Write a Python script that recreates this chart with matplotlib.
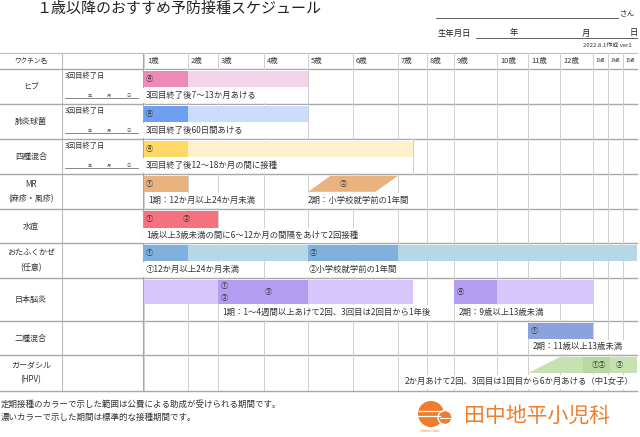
import numpy as np
import matplotlib
matplotlib.use("Agg")
import matplotlib.pyplot as plt
from matplotlib.patches import Rectangle, Circle, Polygon

plt.rcParams['font.family'] = ['Noto Sans CJK JP', 'DejaVu Sans']

# ---------------- data ----------------
title = "１歳以降のおすすめ予防接種スケジュール"
age_labels = ["1歳", "2歳", "3歳", "4歳", "5歳", "6歳", "7歳", "8歳", "9歳",
              "10歳", "11歳", "12歳", "13歳", "14歳", "15歳"]
col_ages = [1, 2, 3, 4, 5, 6, 7, 8, 9, 10, 11, 12, 13, 14, 15, 16]
vaccines = ["ヒブ", "肺炎球菌", "四種混合", "MR\n(麻疹・風疹)", "水痘",
            "おたふくかぜ\n(任意)", "日本脳炎", "二種混合", "ガーダシル\n(HPV)"]
has_date_box = [True, True, True, False, False, False, False, False, False]

# periods per vaccine row: (start age, end age, shade)  d = standard, l = allowed
hib_periods = [(1, 2, "d"), (2, 5, "l")]
pcv_periods = [(1, 2, "d"), (2, 5, "l")]
dtp_periods = [(1, 2, "d"), (2, 7.5, "l")]
mr_periods = [(1, 2, "d")]
mr_second = (5.0, 6.5, 5.5, 7.0)          # bottom start/end, top start/end
var_periods = [(1, 3, "d")]
mumps_periods = [(1, 2, "d"), (2, 5, "l"), (5, 7, "d"), (7, 16, "l")]
je_periods = [(1, 3, "l"), (3, 5, "d"), (5, 7.5, "l"), (9, 10, "d"), (10, 13, "l")]
dt_periods = [(11, 13, "d")]
hpv_shape = (11.0, 16.0, 12.0, 16.0)      # bottom start/end, top start/end
hpv_core = (12.7, 14.1)

periods = [hib_periods, pcv_periods, dtp_periods, mr_periods, var_periods,
           mumps_periods, je_periods, dt_periods, []]

dark_colors = ["#ee8ab8", "#6f9ff0", "#ffd867", "#e9b37f", "#f6717f",
               "#80b1dc", "#b39df0", "#8aa3dc", "#c7e1b3"]
light_colors = ["#f3d4ea", "#cbddfa", "#fff1cb", "#e9b37f", "#f6717f",
                "#b6d7e5", "#d7c6fb", "#8aa3dc", "#c7e1b3"]

# dose markers: (row, age, label, y-offset inside bar in px)
doses = [
    (0, 1.05, "④", 0), (1, 1.05, "④", 0), (2, 1.05, "④", 0),
    (3, 1.05, "①", 0), (3, 5.7, "②", 0),
    (4, 1.05, "①", 0), (4, 1.87, "②", 0),
    (5, 1.05, "①", 0), (5, 5.05, "②", 0),
    (6, 3.07, "①", -6), (6, 3.07, "②", 6), (6, 4.02, "③", 0), (6, 9.06, "④", 0),
    (7, 11.08, "①", 0),
    (8, 12.97, "①②", 0), (8, 14.55, "③", 0),
]

# notes: (row, age, text, align)
notes = [
    (0, 1.05, "3回目終了後7～13か月あける", "left"),
    (1, 1.05, "3回目終了後60日間あける", "left"),
    (2, 1.05, "3回目終了後12～18か月の間に接種", "left"),
    (3, 1.10, "1期：12か月以上24か月未満", "left"),
    (3, 5.00, "2期：小学校就学前の1年間", "left"),
    (4, 1.05, "1歳以上3歳未満の間に6～12か月の間隔をあけて2回接種", "left"),
    (5, 1.03, "①12か月以上24か月未満", "left"),
    (5, 5.02, "②小学校就学前の1年間", "left"),
    (6, 3.10, "1期：1～4週間以上あけて2回、3回目は2回目から1年後", "left"),
    (6, 9.10, "2期：9歳以上13歳未満", "left"),
    (7, 11.16, "2期：11歳以上13歳未満", "left"),
    (8, 15.75, "2か月あけて2回、3回目は1回目から6か月あける（中1女子）", "right"),
]

footnotes = ["定期接種のカラーで示した範囲は公費による助成が受けられる期間です。",
             "濃いカラーで示した期間は標準的な接種期間です。"]
clinic = "田中地平小児科"

# ---------------- layout (pixels) ----------------
W, H = 640, 437
col_px = [144, 188, 218, 264, 308, 353, 398, 427, 454, 497, 528, 560, 593, 608, 623, 637]
row_tops = [69, 104, 139, 174, 209, 243, 278, 321, 355, 391]
header_top = 53
bar_h = [16, 16, 16, 16, 17, 16, 24, 16, 16]
orange = "#ef7d2b"

fig = plt.figure(figsize=(6.4, 4.37), dpi=100)
ax = fig.add_axes([0, 0, 1, 1])
ax.set_xlim(0, W)
ax.set_ylim(H, 0)
ax.axis("off")

# schedule axes with the (non-uniform) age scale
def fwd(a):
    return np.interp(a, col_ages, col_px)

def inv(p):
    return np.interp(p, col_px, col_ages)

axs = fig.add_axes([col_px[0] / W, 1 - row_tops[-1] / H,
                    (col_px[-1] - col_px[0]) / W, (row_tops[-1] - header_top) / H])
axs.set_xscale("function", functions=(fwd, inv))
axs.set_xlim(col_ages[0], col_ages[-1])
axs.set_ylim(row_tops[-1], header_top)
axs.axis("off")
axs.patch.set_alpha(0)

# title and header texts
ax.text(36, 9, title, fontsize=10.8, va="center", ha="left", color="#222222")
ax.plot([436, 618], [18, 18], color="#444444", lw=0.6)
ax.text(620, 13, "さん", fontsize=5.5, va="center", ha="left", color="#333333")
ax.text(438, 33, "生年月日", fontsize=6, va="center", ha="left", color="#222222")
ax.plot([476, 637], [38, 38], color="#444444", lw=0.6)
for xx, t in [(510, "年"), (582, "月"), (630, "日")]:
    ax.text(xx, 33, t, fontsize=6, va="center", ha="left", color="#222222")
ax.text(632, 45, "2022.8.1作成 ver1", fontsize=4.3, va="center", ha="right", color="#333333")

# grid lines
gl = "#cfcfcf"
for i, a in enumerate(col_ages):
    axs.plot([a, a], [header_top, row_tops[-1]], color=gl, lw=0.7, zorder=1)
ax.plot([62, 62], [header_top, row_tops[-1]], color="#bdbdbd", lw=0.8, zorder=1)
ax.plot([143, 143], [header_top, row_tops[-1]], color="#a8a8a8", lw=0.8, zorder=1)
ax.plot([0, 637], [header_top, header_top], color="#bdbdbd", lw=0.8, zorder=1)
for y in row_tops:
    ax.plot([0, 637], [y, y], color="#a8a8a8", lw=1.0, zorder=5)

# header row
ax.text(31, 61, "ワクチン名", fontsize=4.8, ha="center", va="center", color="#333333")
for i, lab in enumerate(age_labels):
    fs = 5.4 if i < 12 else 3.3
    axs.text(inv(fwd(col_ages[i]) + 3), 61, lab, fontsize=fs, ha="left", va="center",
             color="#333333")

# vaccine name column and date boxes
for r, name in enumerate(vaccines):
    yc = (row_tops[r] + row_tops[r + 1]) / 2
    ax.text(31, yc, name, fontsize=5.8, ha="center", va="center", color="#333333",
            linespacing=1.7)
    if has_date_box[r]:
        ax.text(65, row_tops[r] + 7, "3回目終了日", fontsize=5.2, ha="left", va="center",
                color="#333333")
        ax.plot([65, 138], [row_tops[r] + 29, row_tops[r] + 29], color="#555555", lw=0.5)
        for xx, t in [(88, "年"), (107, "月"), (126, "日")]:
            ax.text(xx, row_tops[r] + 27, t, fontsize=3, ha="left", va="center",
                    color="#555555")

# white backing for rows with full-height note boxes
for r in range(3):
    end = max(p[1] for p in periods[r])
    axs.add_patch(Rectangle((1, row_tops[r] + 0.8), end - 1,
                            row_tops[r + 1] - row_tops[r] - 1.6,
                            facecolor="white", edgecolor="none", zorder=2))
    axs.plot([end, end], [row_tops[r], row_tops[r + 1]], color=gl, lw=0.7, zorder=2)

# bars
for r, plist in enumerate(periods):
    top = row_tops[r] + 1.8
    for (a0, a1, kind) in plist:
        c = dark_colors[r] if kind == "d" else light_colors[r]
        axs.barh(top + bar_h[r] / 2, a1 - a0, left=a0, height=bar_h[r], color=c,
                 edgecolor="none", zorder=3)

# MR second dose (parallelogram)
r = 3
top = row_tops[r] + 1.8
b0, b1, t0, t1 = mr_second
axs.add_patch(Polygon([(b0, top + bar_h[r]), (b1, top + bar_h[r]), (t1, top), (t0, top)],
                      closed=True, facecolor=dark_colors[r], edgecolor="none", zorder=3))

# HPV trapezoid
r = 8
top = row_tops[r] + 1.8
b0, b1, t0, t1 = hpv_shape
axs.add_patch(Polygon([(b0, top + bar_h[r]), (b1, top + bar_h[r]), (t1, top), (t0, top)],
                      closed=True, facecolor=light_colors[r], edgecolor="none", zorder=3))
axs.barh(top + bar_h[r] / 2, hpv_core[1] - hpv_core[0], left=hpv_core[0],
         height=bar_h[r], color="#b9d9a2", edgecolor="none", zorder=3.5)

# dose markers
for (r, a, lab, dy) in doses:
    yc = row_tops[r] + 1.8 + bar_h[r] / 2 + dy
    axs.text(a, yc, lab, fontsize=5.2, ha="left", va="center", color="#333333", zorder=6)

# notes
for (r, a, txt, al) in notes:
    y = row_tops[r] + 1.8 + bar_h[r] + (row_tops[r + 1] - row_tops[r] - bar_h[r] - 1.8) / 2
    axs.text(a, y, txt, fontsize=6.0, ha=al, va="center", color="#333333", zorder=6,
             bbox=dict(facecolor="white", edgecolor="none", pad=2.0))

# footnotes
ax.text(1, 404, footnotes[0], fontsize=6.1, ha="left", va="center", color="#333333")
ax.text(1, 417, footnotes[1], fontsize=6.1, ha="left", va="center", color="#333333")

# logo
ax.add_patch(Circle((431, 414), 13, facecolor=orange, edgecolor="none"))
ax.plot([419, 442], [410.5, 410.5], color="white", lw=0.9)
ax.plot([418, 440], [415.5, 415.5], color="white", lw=0.9)
ax.add_patch(Circle((445, 417.5), 7, facecolor=orange, edgecolor="white", lw=1.0))
ax.plot([440, 450], [417.5, 417.5], color="white", lw=0.8)
ax.text(430, 431, "chihei clinic", fontsize=2.6, ha="center", va="center", color=orange)
ax.text(464, 416, clinic, fontsize=15, ha="left", va="center", color=orange)

fig.savefig("out.png", dpi=100)
